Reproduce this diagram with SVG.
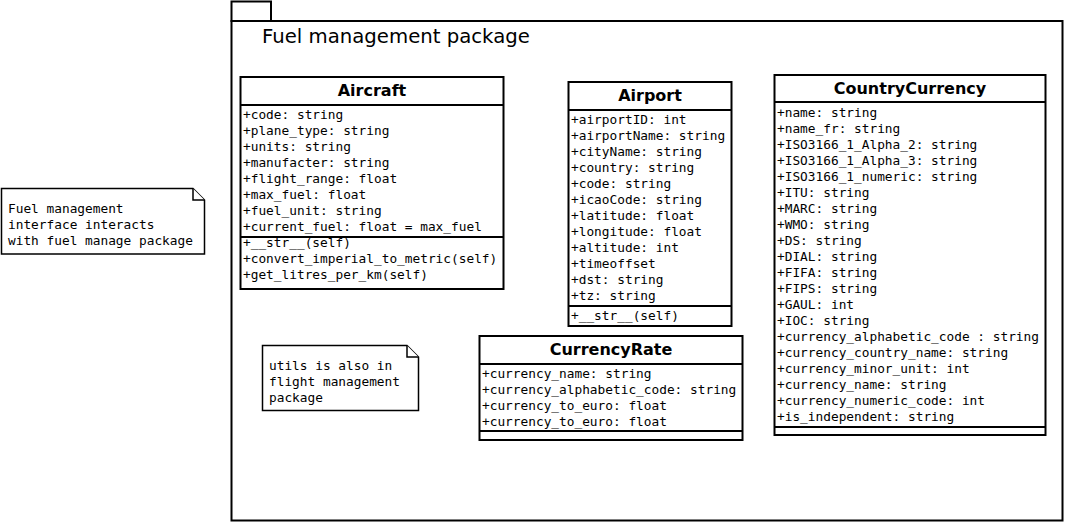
<svg xmlns="http://www.w3.org/2000/svg" width="1065" height="523" viewBox="0 0 1065 523">
<style>
.box{fill:#fff;stroke:#000;stroke-width:2}
.ln{stroke:#000;stroke-width:2;fill:none}
.t{font-family:"DejaVu Sans",sans-serif;font-weight:bold;font-size:16px;text-anchor:middle;fill:#000}
.m{font-family:"DejaVu Sans Mono",monospace;font-size:12.8px;fill:#000}
.pk{font-family:"DejaVu Sans",sans-serif;font-size:19.7px;fill:#000}
.note{fill:#fff;stroke:#000;stroke-width:1.5}
</style>
<rect width="1065" height="523" fill="#fff"/>
<g id="package">
<rect class="box" x="231.5" y="1.5" width="39.5" height="19.5"/>
<rect class="box" x="231.5" y="21" width="831" height="499.5"/>
<text class="pk" x="262" y="43">Fuel management package</text>
</g>
<g id="note-fuel-interface">
<path class="note" d="M1.5,188.5 H193 L204.5,200 V254 H1.5 Z"/>
<path class="note" d="M193,188.5 V200 H204.5"/>
<text class="m" x="8" y="213">Fuel management</text>
<text class="m" x="8" y="229">interface interacts</text>
<text class="m" x="8" y="245">with fuel manage package</text>
</g>
<g id="note-utils">
<path class="note" d="M262.5,345.5 H407 L418.5,357 V410.5 H262.5 Z"/>
<path class="note" d="M407,345.5 V357 H418.5"/>
<text class="m" x="269" y="370">utils is also in</text>
<text class="m" x="269" y="386">flight management</text>
<text class="m" x="269" y="402">package</text>
</g>
<g id="Aircraft">
<rect class="box" x="240.5" y="77" width="263" height="212"/>
<line class="ln" x1="240.5" y1="105" x2="503.5" y2="105"/>
<line class="ln" x1="240.5" y1="237" x2="503.5" y2="237"/>
<text class="t" x="372" y="96">Aircraft</text>
<text class="m" x="243" y="119">+code: string</text>
<text class="m" x="243" y="135">+plane_type: string</text>
<text class="m" x="243" y="151">+units: string</text>
<text class="m" x="243" y="167">+manufacter: string</text>
<text class="m" x="243" y="183">+flight_range: float</text>
<text class="m" x="243" y="199">+max_fuel: float</text>
<text class="m" x="243" y="215">+fuel_unit: string</text>
<text class="m" x="243" y="231">+current_fuel: float = max_fuel</text>
<text class="m" x="243" y="247">+__str__(self)</text>
<text class="m" x="243" y="263">+convert_imperial_to_metric(self)</text>
<text class="m" x="243" y="279">+get_litres_per_km(self)</text>
</g>
<g id="Airport">
<rect class="box" x="568.5" y="82" width="163" height="244"/>
<line class="ln" x1="568.5" y1="110" x2="731.5" y2="110"/>
<line class="ln" x1="568.5" y1="306" x2="731.5" y2="306"/>
<text class="t" x="650" y="101">Airport</text>
<text class="m" x="571" y="124">+airportID: int</text>
<text class="m" x="571" y="140">+airportName: string</text>
<text class="m" x="571" y="156">+cityName: string</text>
<text class="m" x="571" y="172">+country: string</text>
<text class="m" x="571" y="188">+code: string</text>
<text class="m" x="571" y="204">+icaoCode: string</text>
<text class="m" x="571" y="220">+latitude: float</text>
<text class="m" x="571" y="236">+longitude: float</text>
<text class="m" x="571" y="252">+altitude: int</text>
<text class="m" x="571" y="268">+timeoffset</text>
<text class="m" x="571" y="284">+dst: string</text>
<text class="m" x="571" y="300">+tz: string</text>
<text class="m" x="571" y="320">+__str__(self)</text>
</g>
<g id="CountryCurrency">
<rect class="box" x="774.5" y="75" width="271" height="360"/>
<line class="ln" x1="774.5" y1="102" x2="1045.5" y2="102"/>
<line class="ln" x1="774.5" y1="427" x2="1045.5" y2="427"/>
<text class="t" x="910" y="94">CountryCurrency</text>
<text class="m" x="777" y="117">+name: string</text>
<text class="m" x="777" y="133">+name_fr: string</text>
<text class="m" x="777" y="149">+ISO3166_1_Alpha_2: string</text>
<text class="m" x="777" y="165">+ISO3166_1_Alpha_3: string</text>
<text class="m" x="777" y="181">+ISO3166_1_numeric: string</text>
<text class="m" x="777" y="197">+ITU: string</text>
<text class="m" x="777" y="213">+MARC: string</text>
<text class="m" x="777" y="229">+WMO: string</text>
<text class="m" x="777" y="245">+DS: string</text>
<text class="m" x="777" y="261">+DIAL: string</text>
<text class="m" x="777" y="277">+FIFA: string</text>
<text class="m" x="777" y="293">+FIPS: string</text>
<text class="m" x="777" y="309">+GAUL: int</text>
<text class="m" x="777" y="325">+IOC: string</text>
<text class="m" x="777" y="341">+currency_alphabetic_code : string</text>
<text class="m" x="777" y="357">+currency_country_name: string</text>
<text class="m" x="777" y="373">+currency_minor_unit: int</text>
<text class="m" x="777" y="389">+currency_name: string</text>
<text class="m" x="777" y="405">+currency_numeric_code: int</text>
<text class="m" x="777" y="421">+is_independent: string</text>
</g>
<g id="CurrencyRate">
<rect class="box" x="479.5" y="336" width="263" height="104"/>
<line class="ln" x1="479.5" y1="364" x2="742.5" y2="364"/>
<line class="ln" x1="479.5" y1="431" x2="742.5" y2="431"/>
<text class="t" x="611" y="355">CurrencyRate</text>
<text class="m" x="482" y="378">+currency_name: string</text>
<text class="m" x="482" y="394">+currency_alphabetic_code: string</text>
<text class="m" x="482" y="410">+currency_to_euro: float</text>
<text class="m" x="482" y="426">+currency_to_euro: float</text>
</g>
<g id="connectors"/>
</svg>
